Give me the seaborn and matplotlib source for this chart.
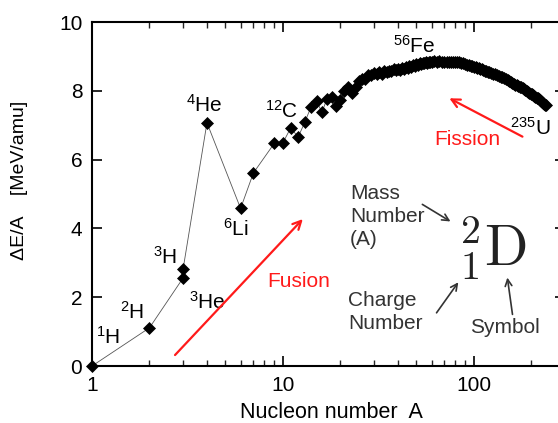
import numpy as np
import pandas as pd
import matplotlib
matplotlib.use("Agg")
import matplotlib.pyplot as plt
import seaborn as sns
from matplotlib.ticker import LogLocator, FixedLocator, NullFormatter, FixedFormatter

# ---------------- data ----------------
mass_light = [1, 2, 3, 3, 4, 6, 7, 9, 10, 11, 12, 13, 14, 15, 16, 17, 18, 19, 20, 21, 22, 23, 24]
energy_light = [0.00, 1.11, 2.56, 2.82, 7.07, 4.58, 5.61, 6.47, 6.49, 6.93, 6.65, 7.08, 7.52, 7.71,
                7.37, 7.77, 7.81, 7.56, 7.73, 8.00, 8.10, 7.95, 8.10]

mass_mid = list(range(25, 61))
energy_mid = [8.29, 8.35, 8.33, 8.45, 8.45, 8.52, 8.48, 8.56, 8.50, 8.58, 8.54, 8.58, 8.57, 8.62,
              8.60, 8.63, 8.60, 8.66, 8.64, 8.70, 8.67, 8.71, 8.70, 8.75, 8.73, 8.77, 8.76, 8.80,
              8.78, 8.82, 8.80, 8.84, 8.82, 8.85, 8.83, 8.85]

mass_plateau = list(range(62, 121, 2))
energy_plateau = [8.86, 8.85, 8.86, 8.85, 8.84, 8.85, 8.84, 8.83, 8.84, 8.83, 8.83, 8.83, 8.82,
                  8.80, 8.78, 8.76, 8.74, 8.73, 8.71, 8.69, 8.68, 8.66, 8.65, 8.63, 8.62, 8.60,
                  8.59, 8.57, 8.56, 8.54]

mass_heavy = list(range(123, 241, 3))
energy_heavy = [8.52, 8.50, 8.48, 8.46, 8.43, 8.41, 8.39, 8.36, 8.33, 8.31, 8.28, 8.26, 8.23,
                8.21, 8.18, 8.16, 8.14, 8.12, 8.10, 8.07, 8.05, 8.02, 8.00, 7.97, 7.95, 7.92,
                7.90, 7.88, 7.85, 7.83, 7.80, 7.78, 7.75, 7.72, 7.69, 7.67, 7.64, 7.62, 7.60, 7.58]

x_ticks = [1, 10, 100]
x_tick_labels = ["1", "10", "100"]
y_ticks = [0, 2, 4, 6, 8, 10]

nuclide_labels = [r"$^{1}$H", r"$^{2}$H", r"$^{3}$H", r"$^{3}$He", r"$^{4}$He", r"$^{6}$Li",
                  r"$^{12}$C", r"$^{56}$Fe", r"$^{235}$U"]
nuclide_label_pos = [(1.05, 0.64), (1.40, 1.37), (2.09, 2.97), (3.22, 1.66), (3.11, 7.38),
                     (4.85, 3.78), (8.05, 7.21), (37.7, 9.10), (154, 6.72)]

df = pd.DataFrame({
    "A": mass_light + mass_mid + mass_plateau + mass_heavy,
    "E": energy_light + energy_mid + energy_plateau + energy_heavy,
})

# ---------------- style ----------------
sns.set_theme(style="ticks")
plt.rcParams["font.family"] = ["Liberation Sans", "DejaVu Sans"]
plt.rcParams["mathtext.fontset"] = "custom"
plt.rcParams["mathtext.rm"] = "Liberation Sans"
plt.rcParams["mathtext.it"] = "Liberation Sans:italic"
plt.rcParams["mathtext.bf"] = "Liberation Sans:bold"

fig = plt.figure(figsize=(5.58, 4.23), dpi=100)
ax = fig.add_axes([92 / 558, (423 - 366) / 423, (565 - 92) / 558, (366 - 22) / 423])

sns.lineplot(data=df, x="A", y="E", sort=False, estimator=None, ax=ax,
             color="#555555", linewidth=0.6, marker="D", markersize=5.8,
             markerfacecolor="black", markeredgecolor="black", markeredgewidth=0.5,
             clip_on=False, zorder=3)

ax.set_xscale("log")
ax.set_xlim(1, 300)
ax.set_ylim(0, 10)

ax.xaxis.set_major_locator(FixedLocator(x_ticks))
ax.xaxis.set_major_formatter(FixedFormatter(x_tick_labels))
ax.xaxis.set_minor_locator(LogLocator(base=10, subs=np.arange(2, 10)))
ax.xaxis.set_minor_formatter(NullFormatter())
ax.set_yticks(y_ticks)
ax.set_yticklabels([str(v) for v in y_ticks])

for s in ax.spines.values():
    s.set_linewidth(1.5)
    s.set_color("black")
ax.tick_params(axis="x", which="major", direction="in", length=7, width=1.2, top=True,
               bottom=True, labelsize=15, pad=7, colors="black")
ax.tick_params(axis="x", which="minor", direction="in", length=4, width=1.0, top=True,
               bottom=True)
ax.tick_params(axis="y", which="major", direction="in", length=7, width=1.2, left=True,
               right=True, labelsize=15, pad=7, colors="black")
ax.tick_params(axis="y", which="minor", left=False, right=False)

ax.set_xlabel("Nucleon number  A", fontsize=15.5, color="black")
ax.set_ylabel("\u0394E/A    [MeV/amu]", fontsize=14, color="black")
ax.xaxis.set_label_coords((331 - 92) / 473, -(418 - 366) / 344, transform=ax.transAxes)
ax.yaxis.set_label_coords(-(92 - 19) / 473, (366 - 180) / 344, transform=ax.transAxes)
ax.xaxis.label.set_va("baseline")
ax.yaxis.label.set_va("center")

# nuclide labels
for lab, (xx, yy) in zip(nuclide_labels, nuclide_label_pos):
    ax.text(xx, yy, lab, fontsize=15, ha="left", va="baseline", color="black")

# fusion / fission
red = "#ff1a1a"
ax.annotate("", xy=(13.0, 4.33), xytext=(2.66, 0.26),
            arrowprops=dict(arrowstyle="->,head_length=0.5,head_width=0.25", color=red, lw=1.6))
ax.text(8.25, 2.30, "Fusion", fontsize=15, color=red, ha="left", va="baseline")
ax.annotate("", xy=(72.2, 7.82), xytext=(185, 6.63),
            arrowprops=dict(arrowstyle="->,head_length=0.5,head_width=0.25", color=red, lw=1.6))
ax.text(61.7, 6.42, "Fission", fontsize=15, color=red, ha="left", va="baseline")

# nuclide notation legend
grey = "#333333"
ax.text(22.4, 5.29, "Mass\nNumber\n(A)", fontsize=15, color=grey, ha="left", va="top",
        linespacing=1.25)
ax.annotate("", xy=(77.6, 4.16), xytext=(52.2, 4.74),
            arrowprops=dict(arrowstyle="->,head_length=0.4,head_width=0.2", color=grey, lw=1.2))
ax.text(82.5, 2.91, r"${}^{2}_{1}\mathrm{D}$", fontsize=41, color="#222222", ha="left",
        va="baseline", math_fontfamily="cm")
ax.text(21.9, 2.18, "Charge\nNumber", fontsize=15, color=grey, ha="left", va="top",
        linespacing=1.25)
ax.annotate("", xy=(84.5, 2.50), xytext=(62.5, 1.48),
            arrowprops=dict(arrowstyle="->,head_length=0.4,head_width=0.2", color=grey, lw=1.2))
ax.text(95.3, 0.96, "Symbol", fontsize=15, color=grey, ha="left", va="baseline")
ax.annotate("", xy=(149, 2.65), xytext=(160, 1.42),
            arrowprops=dict(arrowstyle="->,head_length=0.4,head_width=0.2", color=grey, lw=1.2))

fig.savefig("out.png", dpi=100)
